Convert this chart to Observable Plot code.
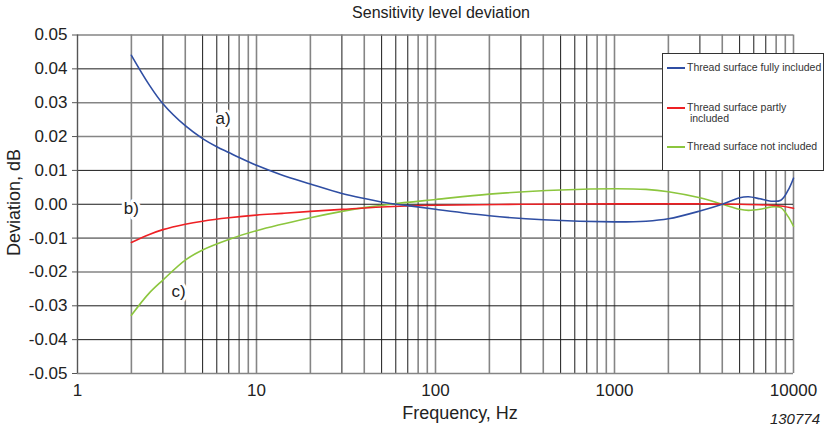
<!DOCTYPE html>
<html><head><meta charset="utf-8">
<script src="https://cdn.jsdelivr.net/npm/d3@7"></script>
<script src="https://cdn.jsdelivr.net/npm/@observablehq/plot@0.6"></script>
<style>
body{margin:0;background:#fff;font-family:"Liberation Sans",Arial,Helvetica,sans-serif;color:#222;}
#wrap{position:relative;width:828px;height:430px;overflow:hidden;}
#wrap svg{position:absolute;left:0;top:0;}
.abs{position:absolute;white-space:nowrap;}
#title{left:241px;top:4px;width:400px;text-align:center;font-size:16px;}
#xlabel{left:360px;top:403px;width:200px;text-align:center;font-size:18px;}
#ylabel{left:-86px;top:192px;width:200px;text-align:center;font-size:18px;transform:rotate(-90deg);}
#code{left:700px;top:410px;width:120px;text-align:right;font-size:15px;font-style:italic;}
#legend{left:662px;top:53px;width:162px;height:118px;background:#fff;border:1px solid #333;box-sizing:border-box;font-size:10.5px;color:#333;}
.sw{position:absolute;left:4px;width:18px;height:0;border-top:2px solid;}
.lt{position:absolute;left:24px;line-height:11px;}
</style>
</head><body>
<div id="wrap">
  <div id="plot"></div>
  <div class="abs" id="title">Sensitivity level deviation</div>
  <div class="abs" id="xlabel">Frequency, Hz</div>
  <div class="abs" id="ylabel">Deviation, dB</div>
  <div class="abs" id="code">130774</div>
  <div class="abs" id="legend"></div>
</div>
<script>
// Series (frequency in Hz, deviation in dB)
const freqA = [2, 2.5, 3, 4, 5, 6, 7, 8, 10, 13.6, 20, 30, 40, 56, 70, 100, 200, 400, 1000, 1500, 2000, 3000, 4000, 5000, 5600, 6500, 7500, 8500, 9300, 10000];
const devA  = [0.044, 0.0355, 0.0297, 0.0232, 0.0194, 0.0170, 0.0153, 0.0138, 0.0115, 0.0088, 0.0060, 0.0032, 0.0017, 0.0002, -0.0004, -0.0015, -0.0034, -0.0046, -0.0052, -0.0050, -0.0043, -0.0020, 0.0000, 0.0019, 0.0022, 0.0016, 0.0009, 0.0012, 0.0040, 0.0077];

const freqB = [2, 2.5, 3, 4, 5, 7, 10, 14, 20, 30, 50, 100, 300, 1000, 3000, 5000, 7000, 8500, 10000];
const devB  = [-0.0113, -0.0090, -0.0075, -0.0059, -0.0050, -0.0040, -0.0032, -0.0027, -0.0021, -0.0015, -0.0008, -0.0003, 0.0000, 0.0001, 0.0001, 0.0000, -0.0002, -0.0005, -0.0012];

const freqC = [2, 2.5, 3, 4, 5, 7, 10, 20, 30, 40, 56, 100, 200, 500, 1000, 1500, 2000, 3000, 4000, 5000, 5600, 6500, 7800, 8500, 9300, 10000];
const devC  = [-0.0328, -0.0264, -0.0224, -0.0165, -0.0135, -0.0104, -0.0078, -0.0040, -0.0021, -0.0010, 0.0000, 0.0014, 0.0030, 0.0042, 0.0046, 0.0044, 0.0037, 0.0019, 0.0000, -0.0015, -0.0018, -0.0015, -0.0007, -0.0010, -0.0035, -0.0065];

const seriesNames = ["Thread surface fully included", "Thread surface partly included", "Thread surface not included"];
const seriesColors = ["#2f4ea3", "#ee2024", "#8cc63e"];

// Annotation labels
const annoText = ["a)", "b)", "c)"];
const annoFreq = [6.5, 2.0, 3.67];
const annoDev  = [0.0253, -0.0013, -0.0259];

// Ticks / grid
const xTickLabels = [1, 10, 100, 1000, 10000];
const xGrid = [2,3,4,5,6,7,8,9,10,20,30,40,50,60,70,80,90,100,200,300,400,500,600,700,800,900,1000,2000,3000,4000,5000,6000,7000,8000,9000,10000];
const yTicks = [0.05,0.04,0.03,0.02,0.01,0,-0.01,-0.02,-0.03,-0.04,-0.05];
const yGridDark = [0.04, 0.01, 0, -0.03, -0.04];

const toRows = (fs, vs, name) => fs.map((f, i) => ({f, v: vs[i], name}));
const rowsA = toRows(freqA, devA, seriesNames[0]);
const rowsB = toRows(freqB, devB, seriesNames[1]);
const rowsC = toRows(freqC, devC, seriesNames[2]);
const annos = annoText.map((t, i) => ({t, f: annoFreq[i], v: annoDev[i]}));

const lead = d => +String(d)[0];
const xGridGray = xGrid.filter(d => [1,2,4,8,9].includes(lead(d)));
const xGridBlack = xGrid.filter(d => [3,5,6,7].includes(lead(d)));
const yGridGray = yTicks.filter(d => !yGridDark.includes(d));

const chart = Plot.plot({
  width: 828, height: 430,
  marginLeft: 77, marginRight: 35, marginTop: 34.5, marginBottom: 57,
  style: {fontSize: "17px", fontFamily: "Liberation Sans, Arial, sans-serif", color: "#222", background: "transparent"},
  x: {type: "log", domain: [1, 10000]},
  y: {domain: [-0.05, 0.05]},
  marks: [
    Plot.ruleX(xGridGray, {stroke: "#858585", strokeWidth: 1.6}),
    Plot.ruleX(xGridBlack, {stroke: "#1a1a1a", strokeWidth: 1}),
    Plot.ruleY(yGridGray, {stroke: "#858585", strokeWidth: 1.6}),
    Plot.ruleY(yGridDark, {stroke: "#1a1a1a", strokeWidth: 1}),
    Plot.ruleX([1], {stroke: "#555", strokeWidth: 1.4}),
    Plot.axisY(yTicks, {tickSize: 5, tickPadding: 5, tickFormat: d => d.toFixed(2), label: null, stroke: "#555", fontSize: 17}),
    Plot.axisX(xTickLabels, {tickSize: 0, tickPadding: 10, tickFormat: d => String(d), label: null, fontSize: 17}),
    Plot.line(rowsC, {x: "f", y: "v", stroke: seriesColors[2], strokeWidth: 1.6, curve: "catmull-rom"}),
    Plot.line(rowsB, {x: "f", y: "v", stroke: seriesColors[1], strokeWidth: 1.6, curve: "catmull-rom"}),
    Plot.line(rowsA, {x: "f", y: "v", stroke: seriesColors[0], strokeWidth: 1.6, curve: "catmull-rom"}),
    Plot.text(annos, {x: "f", y: "v", text: "t", fontSize: 17, fill: "#222", stroke: "white", strokeWidth: 6})
  ]
});
document.getElementById("plot").appendChild(chart);

// Legend
const lg = document.getElementById("legend");
const swY = [14, 54, 93];
seriesNames.forEach((n, i) => {
  const s = document.createElement("div");
  s.className = "sw"; s.style.top = (swY[i] - 1) + "px"; s.style.borderTopColor = seriesColors[i];
  lg.appendChild(s);
  const t = document.createElement("div");
  t.className = "lt"; t.style.top = (swY[i] - 6) + "px";
  if (i === 1) { t.innerHTML = "Thread surface partly<br>&nbsp;included"; }
  else t.textContent = n;
  lg.appendChild(t);
});
</script>
</body></html>
